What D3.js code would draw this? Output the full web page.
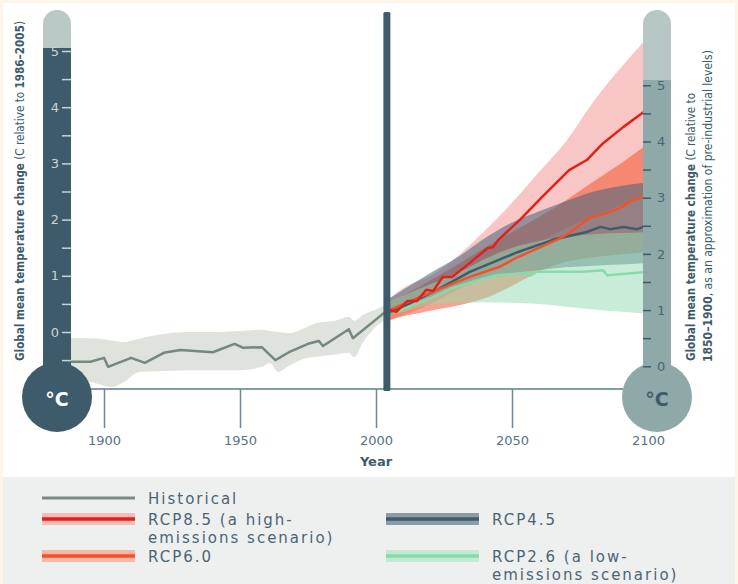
<!DOCTYPE html>
<html>
<head>
<meta charset="utf-8">
<script src="https://cdn.jsdelivr.net/npm/d3@7"></script>
<style>
  body { margin: 0; background: #fdf6e6; }
  svg { display: block; }
</style>
</head>
<body>
<svg id="chart" width="738" height="584"></svg>
<script>
// historical record (relative to 1986-2005)
const histYears = [1880, 1895, 1903, 1907, 1913, 1920, 1931, 1940, 1950, 1958, 1961, 1964, 1968, 1975, 1978, 1985, 1990, 1992, 1995, 2000, 2005];
const histUpper = [-0.1, -0.11, -0.15, -0.18, -0.12, -0.05, 0.0, 0.0, 0.02, 0.04, 0.02, 0.0, -0.02, 0.1, 0.16, 0.2, 0.27, 0.2, 0.3, 0.4, 0.52];
const histLower = [-0.85, -0.89, -0.98, -0.9, -0.71, -0.7, -0.68, -0.68, -0.68, -0.62, -0.55, -0.71, -0.6, -0.46, -0.44, -0.4, -0.37, -0.45, -0.2, 0.1, 0.25];
const histMean = [[1880, -0.5], [1888, -0.53], [1895, -0.53], [1900, -0.46], [1901.5, -0.62], [1910, -0.46], [1915, -0.55], [1922, -0.37], [1928, -0.32], [1940, -0.36], [1948, -0.21], [1951, -0.28], [1958, -0.27], [1963, -0.5], [1968, -0.36], [1975, -0.21], [1979, -0.16], [1980.5, -0.25], [1990, 0.05], [1991.5, -0.11], [2004, 0.38]];

// projection ranges
const projYears = [2005, 2010, 2020, 2030, 2040, 2050, 2060, 2070, 2080, 2090, 2100];
const rcp85Upper = [0.6, 0.78, 1.0, 1.35, 1.8, 2.3, 2.85, 3.4, 4.1, 4.7, 5.25];
const rcp85Lower = [0.2, 0.3, 0.5, 0.75, 1.0, 1.3, 1.6, 1.85, 2.05, 2.25, 2.4];
const rcp60Upper = [0.55, 0.65, 0.92, 1.2, 1.5, 1.78, 2.05, 2.35, 2.68, 3.0, 3.35];
const rcp60Lower = [0.22, 0.28, 0.38, 0.47, 0.6, 0.82, 1.08, 1.25, 1.33, 1.38, 1.42];
const rcp45Upper = [0.6, 0.75, 1.05, 1.33, 1.67, 1.95, 2.15, 2.33, 2.5, 2.6, 2.66];
const rcp45Lower = [0.3, 0.4, 0.6, 0.8, 0.97, 1.05, 1.1, 1.15, 1.18, 1.2, 1.23];
const rcp26Upper = [0.55, 0.65, 0.85, 1.05, 1.3, 1.5, 1.62, 1.7, 1.74, 1.76, 1.78];
const rcp26Lower = [0.3, 0.36, 0.48, 0.52, 0.53, 0.52, 0.5, 0.45, 0.4, 0.36, 0.33];

// projection means
const rcp85Mean = [[2005, 0.39], [2007.5, 0.36], [2011.5, 0.55], [2015, 0.55], [2018.5, 0.75], [2021, 0.73], [2024.5, 0.98], [2028, 0.98], [2034.5, 1.23], [2041, 1.49], [2043, 1.51], [2045, 1.64], [2053, 2.0], [2061, 2.4], [2071, 2.88], [2077.5, 3.06], [2083.5, 3.36], [2091, 3.65], [2100, 3.97]];
const rcp60Mean = [[2005, 0.39], [2016, 0.62], [2034.5, 0.98], [2045.5, 1.16], [2052, 1.33], [2067.5, 1.66], [2071, 1.76], [2078.5, 2.03], [2085, 2.12], [2089.5, 2.2], [2094.5, 2.35], [2098, 2.4], [2100, 2.43]];
const rcp45Mean = [[2005, 0.36], [2012, 0.5], [2022.5, 0.75], [2034.5, 1.07], [2052, 1.42], [2065, 1.64], [2077.5, 1.78], [2082.5, 1.87], [2086, 1.83], [2091, 1.87], [2096, 1.83], [2100, 1.9]];
const rcp26Mean = [[2005, 0.4], [2008, 0.36], [2013, 0.47], [2020, 0.6], [2028, 0.78], [2038, 0.93], [2044.5, 1.01], [2055.5, 1.05], [2056.5, 1.0], [2059, 1.07], [2076, 1.07], [2083.5, 1.1], [2085, 1.01], [2100, 1.07]];

const projectionStart = 2004;
const preIndustrialOffset = 0.61;
const yearTicks = [1900, 1950, 2000, 2050, 2100];

const legendLabels = [['Historical'], ['RCP8.5 (a high-', 'emissions scenario)'], ['RCP6.0'], ['RCP4.5'], ['RCP2.6 (a low-', 'emissions scenario)']];

const svg = d3.select('#chart');
const x = d3.scaleLinear().domain([1900, 2100]).range([104, 648]);
const y = d3.scaleLinear().domain([0, 5]).range([332, 51]);
const yRight = d3.scaleLinear().domain([0, 5])
  .range([y(-preIndustrialOffset), y(5 - preIndustrialOffset)]);

// backgrounds
svg.append('rect').attr('width', 738).attr('height', 584).attr('fill', '#fdf6e6');
svg.append('rect').attr('x', 3).attr('y', 3).attr('width', 732).attr('height', 581).attr('fill', '#ffffff');
svg.append('rect').attr('x', 3).attr('y', 477).attr('width', 732).attr('height', 107).attr('fill', '#eef0ef');

svg.append('clipPath').attr('id', 'plotClip')
  .append('rect').attr('x', 71).attr('y', 0).attr('width', 572).attr('height', 389);
const plot = svg.append('g').attr('clip-path', 'url(#plotClip)');

function bandRows(years, lo, hi) {
  return years.map((yr, i) => ({ year: yr, lo: lo[i], hi: hi[i] }));
}

const area = d3.area()
  .x((d) => x(d.year))
  .y0((d) => y(d.lo))
  .y1((d) => y(d.hi))
  .curve(d3.curveMonotoneX);

const line = d3.line()
  .x((d) => x(d[0]))
  .y((d) => y(d[1]));

// historical
plot.append('path')
  .datum(bandRows(histYears, histLower, histUpper))
  .attr('d', area)
  .attr('fill', '#dfe3dc');

const bands = [
  { rows: bandRows(projYears, rcp85Lower, rcp85Upper), fill: '#f29893', op: 0.55 },
  { rows: bandRows(projYears, rcp60Lower, rcp60Upper), fill: '#f4552f', op: 0.55 },
  { rows: bandRows(projYears, rcp45Lower, rcp45Upper), fill: '#46647d', op: 0.55 },
  { rows: bandRows(projYears, rcp26Lower, rcp26Upper), fill: '#93d9b1', op: 0.5 },
];
bands.forEach((b) => {
  plot.append('path')
    .datum(b.rows)
    .attr('d', area)
    .attr('fill', b.fill)
    .attr('fill-opacity', b.op);
});

const means = [
  { data: histMean, color: '#75877f' },
  { data: rcp26Mean, color: '#86dbac' },
  { data: rcp45Mean, color: '#3f5c6c' },
  { data: rcp60Mean, color: '#f5502a' },
  { data: rcp85Mean, color: '#e2201a' },
];
means.forEach((m) => {
  plot.append('path')
    .datum(m.data)
    .attr('d', line)
    .attr('fill', 'none')
    .attr('stroke', m.color)
    .attr('stroke-width', 2.5)
    .attr('stroke-linejoin', 'round');
});

// x axis
svg.append('line')
  .attr('x1', 71).attr('x2', 630)
  .attr('y1', 389).attr('y2', 389)
  .attr('stroke', '#5f7887').attr('stroke-width', 1.5);

const xAxis = svg.append('g')
  .attr('transform', 'translate(0,389)')
  .call(d3.axisBottom(x).tickValues(yearTicks).tickSize(39).tickPadding(8).tickFormat(d3.format('d')));
xAxis.select('.domain').remove();
xAxis.selectAll('.tick line').attr('stroke', '#6f8896').attr('stroke-width', 1.5);
xAxis.selectAll('.tick text')
  .attr('fill', '#5a7180')
  .style('font-family', 'DejaVu Sans, sans-serif')
  .style('font-size', '13px');

svg.append('text')
  .attr('x', x(2000))
  .attr('y', 466)
  .attr('text-anchor', 'middle')
  .style('font-family', 'DejaVu Sans, sans-serif')
  .style('font-size', '13px')
  .style('font-weight', 'bold')
  .attr('fill', '#3e5b6b')
  .text('Year');

// projection start bar
svg.append('rect')
  .attr('x', x(projectionStart) - 3.5)
  .attr('y', 12)
  .attr('width', 7)
  .attr('height', 379)
  .attr('rx', 1.5)
  .attr('fill', '#3e5b6b');

// left thermometer
svg.append('rect').attr('x', 43).attr('y', 10).attr('width', 28).attr('height', 60).attr('rx', 14).attr('fill', '#b9c9c5');
svg.append('rect').attr('x', 43).attr('y', 48).attr('width', 28).attr('height', 352).attr('fill', '#3e5b6b');
svg.append('circle').attr('cx', 57).attr('cy', 397).attr('r', 35).attr('fill', '#3e5b6b');

const leftAxis = svg.append('g')
  .attr('transform', 'translate(71,0)')
  .call(d3.axisLeft(y).tickValues(d3.range(-0.5, 5.01, 0.5)).tickSize(9).tickPadding(3)
    .tickFormat((d) => (Number.isInteger(d) ? d : '')));
leftAxis.select('.domain').remove();
leftAxis.selectAll('.tick line').attr('stroke', '#c9d3d5').attr('stroke-width', 1.5);
leftAxis.selectAll('.tick text')
  .attr('fill', '#c9d3d5')
  .style('font-family', 'DejaVu Sans, sans-serif')
  .style('font-size', '13px');

svg.append('text')
  .attr('x', 57).attr('y', 399)
  .attr('text-anchor', 'middle')
  .attr('dominant-baseline', 'central')
  .style('font-family', 'DejaVu Sans, sans-serif')
  .style('font-size', '19px')
  .style('font-weight', 'bold')
  .attr('fill', '#ffffff')
  .text('°C');

// right thermometer
svg.append('rect').attr('x', 643).attr('y', 10).attr('width', 28).attr('height', 90).attr('rx', 14).attr('fill', '#b7c7c6');
svg.append('rect').attr('x', 643).attr('y', 80).attr('width', 28).attr('height', 320).attr('fill', '#8fa8a8');
svg.append('circle').attr('cx', 657).attr('cy', 397).attr('r', 35).attr('fill', '#8fa8a8');

const rightAxis = svg.append('g')
  .attr('transform', 'translate(643,0)')
  .call(d3.axisRight(yRight).tickValues(d3.range(0, 5.01, 0.5)).tickSize(8).tickPadding(6)
    .tickFormat((d) => (Number.isInteger(d) ? d : '')));
rightAxis.select('.domain').remove();
rightAxis.selectAll('.tick line').attr('stroke', '#3e5b6b').attr('stroke-width', 1.5);
rightAxis.selectAll('.tick text')
  .attr('fill', '#4a6572')
  .style('font-family', 'DejaVu Sans, sans-serif')
  .style('font-size', '13px');

svg.append('text')
  .attr('x', 657).attr('y', 399)
  .attr('text-anchor', 'middle')
  .attr('dominant-baseline', 'central')
  .style('font-family', 'DejaVu Sans, sans-serif')
  .style('font-size', '19px')
  .style('font-weight', 'bold')
  .attr('fill', '#3e5b6b')
  .text('°C');

// vertical titles
function verticalTitle(tx, ty, len, parts) {
  const t = svg.append('text')
    .attr('transform', `translate(${tx},${ty}) rotate(-90)`)
    .attr('textLength', len)
    .attr('lengthAdjust', 'spacingAndGlyphs')
    .style('font-family', 'DejaVu Sans Condensed, DejaVu Sans, sans-serif')
    .style('font-size', '13px')
    .attr('fill', '#3e5b6b');
  parts.forEach((p) => {
    t.append('tspan')
      .style('font-weight', p[1] ? 'bold' : 'normal')
      .text(p[0]);
  });
}
verticalTitle(24, 361, 340, [['Global mean temperature change', true], [' (C relative to ', false], ['1986–2005', true], [')', false]]);
verticalTitle(695, 361, 268, [['Global mean temperature change', true], [' (C relative to', false]]);
verticalTitle(712, 362, 312, [['1850–1900', true], [', as an approximation of pre-industrial levels)', false]]);

// legend
const legendItems = [
  { col: 42, row: 498, color: '#7a8a84', band: null },
  { col: 42, row: 519, color: '#e2201a', band: '#f6bcb8' },
  { col: 42, row: 556, color: '#f5502a', band: '#f8b8a6' },
  { col: 386, row: 519, color: '#3f5c6c', band: '#8a9ca6' },
  { col: 386, row: 556, color: '#86dbac', band: '#c2e9d3' },
];
legendItems.forEach((item, i) => {
  const g = svg.append('g').attr('transform', `translate(${item.col},${item.row})`);
  if (item.band) {
    g.append('rect').attr('x', 0).attr('y', -6).attr('width', 93).attr('height', 12).attr('fill', item.band);
  }
  g.append('line')
    .attr('x1', 0).attr('x2', 93)
    .attr('stroke', item.color)
    .attr('stroke-width', item.band ? 3.5 : 3);
  legendLabels[i].forEach((txt, j) => {
    g.append('text')
      .attr('x', 106)
      .attr('y', 5.5 + j * 18)
      .style('font-family', 'DejaVu Sans, sans-serif')
      .style('font-size', '15px')
      .style('letter-spacing', '2px')
      .attr('fill', '#4c6474')
      .text(txt);
  });
});
</script>
</body>
</html>
